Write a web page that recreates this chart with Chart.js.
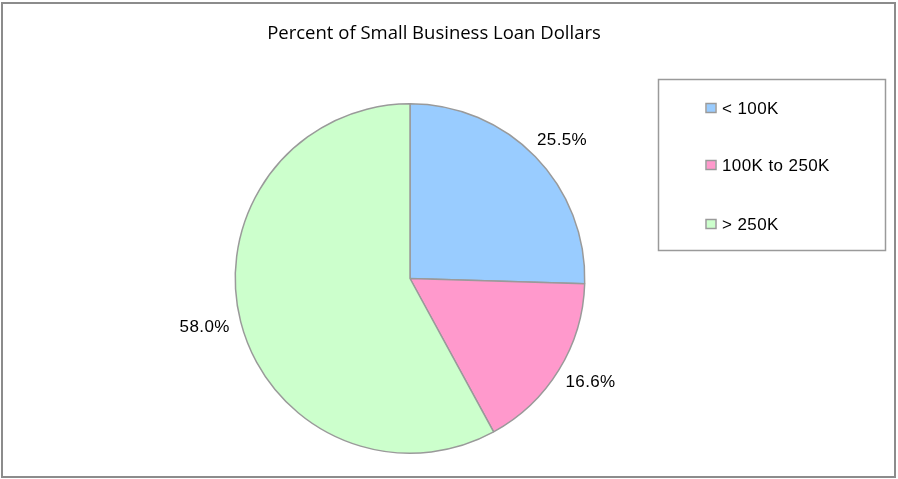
<!DOCTYPE html>
<html>
<head>
<meta charset="utf-8">
<script src="https://cdn.jsdelivr.net/npm/chart.js@4"></script>
<style>
  html, body { margin: 0; padding: 0; background: #fff; }
  #wrap { width: 898px; height: 479px; position: relative; }
</style>
</head>
<body>
<div id="wrap"><canvas id="c" width="898" height="479"></canvas></div>
<script>
const categories = ['< 100K', '100K to 250K', '> 250K'];
const percents = [25.5, 16.6, 58.0];
const sliceColors = ['#99CCFF', '#FF99CC', '#CCFFCC'];
const titleText = 'Percent of Small Business Loan Dollars';

// Outer frame, value labels beside each slice, and the boxed legend
const decorations = {
  id: 'decorations',
  beforeDraw(chart) {
    const ctx = chart.ctx;
    ctx.save();
    ctx.fillStyle = '#fff';
    ctx.fillRect(0, 0, chart.width, chart.height);
    ctx.strokeStyle = '#8c8c8c';
    ctx.lineWidth = 2;
    ctx.strokeRect(2, 3, 893, 474);
    ctx.restore();
  },
  afterDraw(chart) {
    const ctx = chart.ctx;
    ctx.save();
    // title
    ctx.fillStyle = '#000';
    ctx.font = '18.5px "Open Sans", Lato, sans-serif';
    ctx.textAlign = 'center';
    ctx.textBaseline = 'middle';
    ctx.fillText(titleText, 434, 34);

    // value labels, pushed out so the text box clears the rim
    const meta = chart.getDatasetMeta(0);
    ctx.font = '17px "Liberation Sans", Arial, sans-serif';
    ctx.letterSpacing = '0.4px';
    meta.data.forEach((arc, i) => {
      const p = arc.getProps(['x', 'y', 'startAngle', 'endAngle', 'outerRadius'], true);
      const mid = (p.startAngle + p.endAngle) / 2;
      const txt = percents[i].toFixed(1) + '%';
      const w = ctx.measureText(txt).width;
      const h = 24;
      const r = p.outerRadius + 12;
      const cx = p.x + Math.cos(mid) * r + Math.cos(mid) * w / 2;
      const cy = p.y + Math.sin(mid) * r + Math.sin(mid) * h / 2;
      ctx.fillText(txt, cx, cy);
    });

    // legend
    ctx.strokeStyle = '#9a9a9a';
    ctx.lineWidth = 1.5;
    ctx.strokeRect(658.5, 79.5, 227, 171);
    const rows = [108, 165, 224];
    ctx.textAlign = 'left';
    categories.forEach((name, i) => {
      ctx.fillStyle = sliceColors[i];
      ctx.fillRect(706.5, rows[i] - 4, 9, 8);
      ctx.strokeStyle = '#9a9a9a';
      ctx.lineWidth = 1.5;
      ctx.strokeRect(706, rows[i] - 4.5, 10, 9);
      ctx.fillStyle = '#000';
      ctx.fillText(name, 722, rows[i] + 1);
    });
    ctx.restore();
  }
};

new Chart(document.getElementById('c'), {
  type: 'pie',
  data: {
    labels: categories,
    datasets: [{
      data: percents,
      backgroundColor: sliceColors,
      borderColor: '#9a9a9a',
      borderWidth: 1.5
    }]
  },
  options: {
    responsive: false,
    animation: false,
    layout: { padding: { left: 234, right: 312, top: 103, bottom: 25 } },
    plugins: {
      legend: { display: false },
      tooltip: { enabled: false },
      title: { display: false }
    }
  },
  plugins: [decorations]
});
</script>
</body>
</html>
